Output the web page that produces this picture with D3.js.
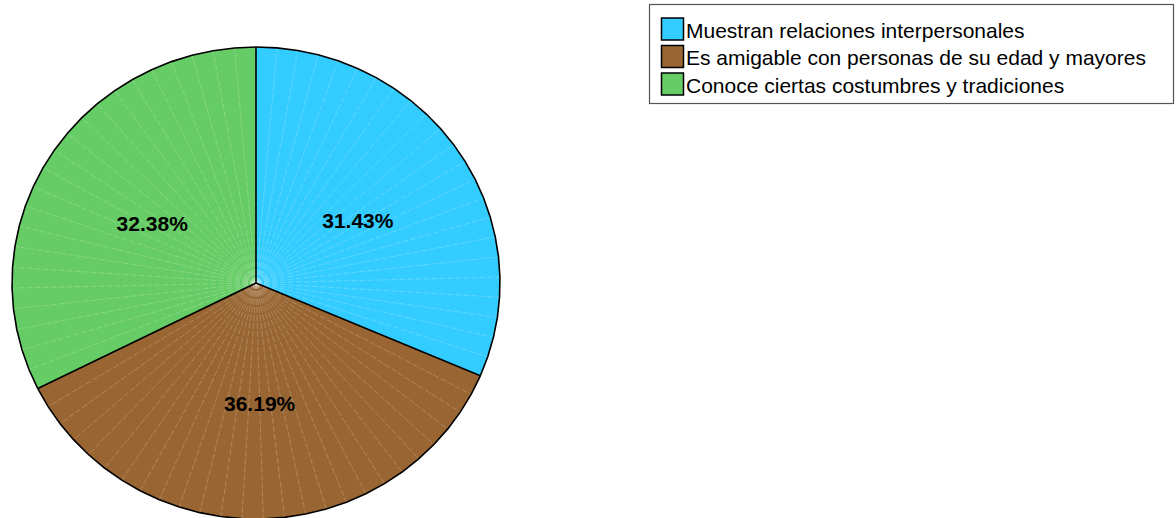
<!DOCTYPE html>
<html>
<head>
<meta charset="utf-8">
<script src="https://cdn.jsdelivr.net/npm/d3@7"></script>
<style>
  body { margin: 0; background: #fff; }
  svg { display: block; font-family: "Liberation Sans", Arial, sans-serif; }
</style>
</head>
<body>
<script>
'use strict';

// chart data
const categories = [
  "Muestran relaciones interpersonales",
  "Es amigable con personas de su edad y mayores",
  "Conoce ciertas costumbres y tradiciones"
];
const percents = [31.43, 36.19, 32.38];
const colors = ["#33CCFF", "#996633", "#66CC66"];

(function() {
  const width = 1176, height = 518;
  const cx = 256, cy = 283; // pie centre
  const rx = 244, ry = 236; // pie is a little wider than tall
  const facetDeg = 5; // the outline is a polygon, one facet per wedge

  const svg = d3.select('body').append('svg')
    .attr('width', width)
    .attr('height', height);

  // unit circle -> pixel, y goes down so use -cos
  let xScale = d3.scaleLinear().domain([-1, 1]).range([cx - rx, cx + rx]);
  let yScale = d3.scaleLinear().domain([-1, 1]).range([cy - ry, cy + ry]);
  let px = a => xScale(Math.sin(a));
  let py = a => yScale(-Math.cos(a));

  let pie = d3.pie().sort(null).value(d => d)(percents);

  let gSlices = svg.append('g');
  let gSeams = svg.append('g');
  let gEdges = svg.append('g');

  pie.forEach((s, i) => {
    let span = s.endAngle - s.startAngle;
    let n = Math.max(1, Math.round(span * 180 / Math.PI / facetDeg));
    let angles = d3.range(n + 1).map(k => s.startAngle + span * k / n);

    // filled slice as polygon
    let pts = [[cx, cy]].concat(angles.map(a => [px(a), py(a)]));
    gSlices.append('path')
      .attr('d', d3.line()(pts) + 'Z')
      .attr('fill', colors[i]);

    // faint seams between the facets
    angles.slice(1, -1).forEach(a => {
      gSeams.append('line')
        .attr('x1', cx).attr('y1', cy)
        .attr('x2', px(a)).attr('y2', py(a))
        .attr('stroke', '#fff')
        .attr('stroke-opacity', 0.35)
        .attr('stroke-width', 0.6)
        .attr('stroke-dasharray', '6,2');
    });

    // outer outline
    gEdges.append('path')
      .attr('d', d3.line()(angles.map(a => [px(a), py(a)])))
      .attr('fill', 'none')
      .attr('stroke', '#000')
      .attr('stroke-width', 1.6);

    // boundary line at slice start
    gEdges.append('line')
      .attr('x1', cx).attr('y1', cy)
      .attr('x2', px(s.startAngle)).attr('y2', py(s.startAngle))
      .attr('stroke', '#000')
      .attr('stroke-width', 1.6);
  });

  // percentage labels at half radius
  svg.append('g').selectAll('text')
    .data(pie)
    .enter()
    .append('text')
      .attr('x', d => { let a = (d.startAngle + d.endAngle) / 2; return xScale(0.5 * Math.sin(a)); })
      .attr('y', d => { let a = (d.startAngle + d.endAngle) / 2; return yScale(-0.5 * Math.cos(a)) + 3; })
      .attr('text-anchor', 'middle')
      .attr('dominant-baseline', 'central')
      .style('font-size', '21px')
      .style('font-weight', 'bold')
      .text(d => d.value.toFixed(2) + '%');

  // legend
  let legend = svg.append('g');
  legend.append('rect')
    .attr('x', 649.5).attr('y', 4.5)
    .attr('width', 524).attr('height', 99)
    .attr('fill', '#fff')
    .attr('stroke', '#555')
    .attr('stroke-width', 1.2);

  let rowY = d3.scalePoint().domain(categories).range([29, 84]);

  let rows = legend.selectAll('.row')
    .data(categories)
    .enter()
    .append('g')
      .attr('class', 'row');

  rows.append('rect')
    .attr('x', 661.5)
    .attr('y', d => rowY(d) - 11)
    .attr('width', 22).attr('height', 22)
    .attr('fill', (d, i) => colors[i])
    .attr('stroke', '#000')
    .attr('stroke-width', 1.5);

  rows.append('text')
    .attr('x', 686)
    .attr('y', d => rowY(d) + 1)
    .attr('dominant-baseline', 'central')
    .style('font-size', '21px')
    .text(d => d);
})();
</script>
</body>
</html>
